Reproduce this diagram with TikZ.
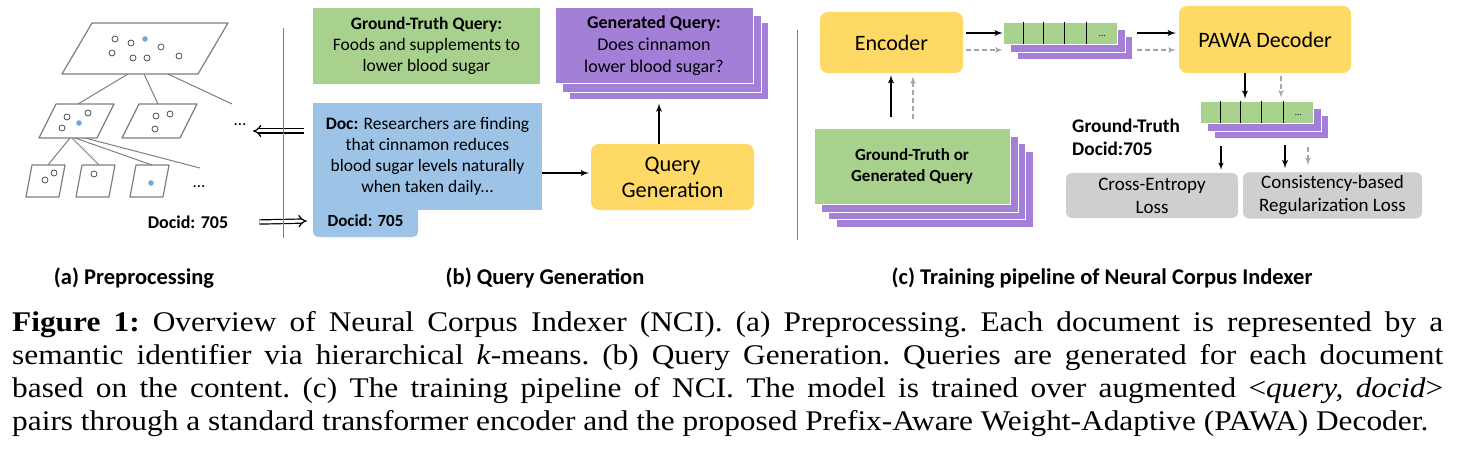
\documentclass[tikz,border=0pt]{standalone}
\usepackage{fontspec}
\setmainfont{Carlito}
\newfontfamily\capfont{Liberation Serif}[FakeStretch=1.1]
\usepackage{tikz}
\usetikzlibrary{shapes,arrows,arrows.meta,positioning,backgrounds}

\definecolor{qgreen}{HTML}{A9D18E}
\definecolor{qpurple}{HTML}{A47FD8}
\definecolor{qblue}{HTML}{9DC3E6}
\definecolor{qyellow}{HTML}{FFD966}
\definecolor{qgray}{HTML}{D0CECE}
\definecolor{qarrow}{HTML}{A6A6A6}
\definecolor{qline}{HTML}{7F7F7F}
\definecolor{qdot}{HTML}{6FA8DC}

\begin{document}
\begin{tikzpicture}[x=1pt, y=-1pt, >=latex']
	%define block styles
	\tikzset{
		engine/.style={rectangle, rounded corners=8pt, fill=qyellow, align=center, font=\fontsize{22}{26}\selectfont},
		textbox/.style={rectangle, align=center, font=\fontsize{17.5}{21}\selectfont},
		tokens/.style={rectangle, fill=qgreen, draw=white, line width=0.6pt, minimum width=114pt, minimum height=22pt, inner sep=0pt},
		stackcopy/.style={fill=qpurple, draw=white, line width=1pt},
		lossbox/.style={rectangle, rounded corners=6pt, fill=qgray, minimum height=45pt, align=center, font=\fontsize{19}{23}\selectfont},
		boldtext/.style={inner sep=0pt, font=\bfseries\fontsize{18}{21}\selectfont},
		subcap/.style={inner sep=0pt, font=\bfseries\fontsize{22.5}{26}\selectfont},
		cluster/.style={draw=qline, line width=1.2pt, fill=white, line join=round},
		member/.style={draw=black!75, fill=white, line width=0.7pt},
		hitmember/.style={fill=qdot},
		branch/.style={draw=qline, line width=1pt},
		divider/.style={draw=qline, line width=1pt},
		arrow/.style={line width=1.8pt, ->},
		grayarrow/.style={line width=1.6pt, ->, draw=qarrow, dash pattern=on 5pt off 3pt},
		dblarrow/.style={double, double distance=3pt, line width=1.2pt, -{Implies[scale=1.5]}},
	}
	\useasboundingbox (0,0) rectangle (1463,457);
	%define clusters
	\foreach \x/\y/\w/\h/\s/\n in {62/74/136/51/30/c0, 39/138/58/34/17/c1, 122/138/58/34/17/c2, 26/197/33/32/6/c3, 76/197/33/32/6/c4, 130/197/33/32/6/c5}
		\draw[cluster] (\x,\y) coordinate (\n) -- ++(\w,0) -- ++(\s,-\h) -- ++(-\w,0) -- cycle;
	\foreach \x/\y in {115/39, 131/43, 161/47, 112/53, 133/58, 147/58, 179/56, 67/117, 88/113, 62/128, 156/116, 170/114, 155/129, 45/180, 54/173, 94/174}
		\draw[member] (\x,\y) circle (3pt);
	\foreach \x/\y in {145/39, 79/123, 151/183}
		\fill[hitmember] (\x,\y) circle (2.8pt);
	\node[boldtext, font=\fontsize{17}{21}\selectfont] (dotsA) at (240,125) {...};
	\node[boldtext, font=\fontsize{17}{21}\selectfont] (dotsB) at (199,187) {...};
	\coordinate (openA) at (232,104);
	\coordinate (openB) at (200,168);
	\coordinate (tipA) at (253,131);
	\node[boldtext] (docidL) at (188,222) {Docid: 705};
	\draw[branch] ([xshift=66pt]c0) -- ([shift={(39pt,34pt)}]c1);
	\draw[branch] ([xshift=82pt]c0) -- ([shift={(36pt,34pt)}]c2);
	\draw[branch] ([xshift=106pt]c0) -- (openA);
	\draw[branch] ([xshift=31pt]c1) -- ([shift={(22pt,32pt)}]c3);
	\draw[branch] ([xshift=33pt]c1) -- ([shift={(23pt,32pt)}]c4);
	\draw[branch] ([xshift=36pt]c1) -- ([shift={(22pt,32pt)}]c5);
	\draw[branch] ([xshift=46pt]c1) -- (openB);
	%define nodes
	\node[textbox, fill=qgreen, minimum width=227pt, minimum height=76pt] (gtq) at (426.5,46) {\textbf{Ground-Truth Query:}\\Foods and supplements to\\lower blood sugar};
	\node[textbox, fill=qpurple, draw=white, line width=1pt, minimum width=198pt, minimum height=76pt, font=\fontsize{18}{22}\selectfont] (genq) at (654,46) {\textbf{Generated Query:}\\Does cinnamon\\lower blood sugar?};
	\node[textbox, fill=qblue, rounded corners=5pt, minimum width=105pt, minimum height=32pt, font=\bfseries\fontsize{17}{20}\selectfont] (docid) at (365.5,221) {Docid: 705};
	\node[textbox, fill=qblue, minimum width=229pt, minimum height=107pt] (doc) at (427.5,156.5) {\textbf{Doc:} Researchers are finding\\that cinnamon reduces\\blood sugar levels naturally\\when taken daily...};
	\node[engine, minimum width=163pt, minimum height=66pt, font=\fontsize{22.3}{26}\selectfont] (qg) at (672.5,177) {Query\\Generation};
	\node[engine, minimum width=143pt, minimum height=61pt] (enc) at (891.5,42.5) {Encoder};
	\node[engine, minimum width=172pt, minimum height=67pt] (pawa) at (1265,39.5) {PAWA Decoder};
	\node[tokens] (vecA) at (1060,33) {};
	\node[tokens, minimum width=113pt] (vecB) at (1256.5,112) {};
	\node[font=\fontsize{9}{9}\selectfont, inner sep=0pt] (vecAdots) at ([shift={(-15pt,-3pt)}]vecA.east) {...};
	\node[font=\fontsize{9}{9}\selectfont, inner sep=0pt] (vecBdots) at ([shift={(-15pt,-3pt)}]vecB.east) {...};
	\foreach \off in {21,41,62,84} {
		\draw[line width=0.8pt] ([xshift=\off pt]vecA.north west) -- ([xshift=\off pt]vecA.south west);
		\draw[line width=0.8pt] ([xshift=\off pt]vecB.north west) -- ([xshift=\off pt]vecB.south west);
	}
	\node[textbox, fill=qgreen, draw=white, line width=1pt, minimum width=196pt, minimum height=75pt, font=\bfseries\fontsize{17}{21}\selectfont] (gtg) at (912,166.5) {Ground-Truth or\\Generated Query};
	\node[boldtext, align=left, anchor=west, font=\bfseries\fontsize{19.3}{23}\selectfont] (gtdocid) at (1072,137) {Ground-Truth\\Docid:705};
	\node[lossbox, minimum width=172pt] (ce) at (1152,195.5) {Cross-Entropy\\Loss};
	\node[lossbox, minimum width=179pt] (reg) at (1332.5,195.5) {Consistency-based\\Regularization Loss};
	%stacked copies
	\begin{scope}[on background layer]
		\foreach \off in {15,8} {
			\draw[stackcopy] ([shift={(\off pt,-\off pt)}]genq.north west) rectangle ([shift={(\off pt,-\off pt)}]genq.south east);
			\draw[stackcopy] ([shift={(\off pt,-\off pt)}]vecA.north west) rectangle ([shift={(\off pt,-\off pt)}]vecA.south east);
			\draw[stackcopy] ([shift={(\off pt,-\off pt)}]vecB.north west) rectangle ([shift={(\off pt,-\off pt)}]vecB.south east);
		}
		\foreach \off in {23,15,8}
			\draw[stackcopy] ([shift={(\off pt,-\off pt)}]gtg.north west) rectangle ([shift={(\off pt,-\off pt)}]gtg.south east);
	\end{scope}
	%define arrows
	\draw[arrow] ([yshift=-16.5pt]doc.east) -- ([shift={(-2pt,4pt)}]qg.west);
	\draw[arrow] ([xshift=-13.5pt]qg.north) -- ([shift={(5pt,-19pt)}]genq.south);
	\draw[dblarrow] ([shift={(-9pt,25.5pt)}]doc.west) -- (tipA);
	\draw[dblarrow] ([xshift=31pt]docidL.east) -- ([xshift=-6pt]docid.west);
	\draw[arrow] ([shift={(3pt,9.5pt)}]enc.east) -- (vecA.west);
	\draw[grayarrow] ([shift={(3pt,-7.5pt)}]enc.east) -- ([yshift=-17pt]vecA.west);
	\draw[arrow] ([xshift=20pt]vecA.east) -- ([shift={(-3pt,6.5pt)}]pawa.west);
	\draw[grayarrow] ([shift={(20pt,-17pt)}]vecA.east) -- ([shift={(-3pt,-10.5pt)}]pawa.west);
	\draw[arrow] ([shift={(-21pt,11pt)}]gtg.north) -- ([shift={(-0.5pt,-2pt)}]enc.south);
	\draw[grayarrow] ([shift={(1pt,9pt)}]gtg.north) -- ([shift={(21.5pt,-3pt)}]enc.south);
	\draw[arrow] ([xshift=-20pt]pawa.south) -- ([shift={(-11.5pt,2pt)}]vecB.north);
	\draw[grayarrow] ([shift={(16pt,-3pt)}]pawa.south) -- ([shift={(24.5pt,3pt)}]vecB.north);
	\draw[arrow, line width=1.4pt] ([shift={(-35.5pt,-23pt)}]vecB.south) -- ([shift={(69pt,3pt)}]ce.north);
	\draw[arrow] ([shift={(28.5pt,-22pt)}]vecB.south) -- ([shift={(-47.5pt,4pt)}]reg.north);
	\draw[grayarrow] ([shift={(51.5pt,-24pt)}]vecB.south) -- ([shift={(-24.5pt,7pt)}]reg.north);
	%separators
	\draw[divider] (283,28) -- (283,238);
	\draw[divider] (797,30) -- (797,240);
	%captions
	\node[subcap] (capa) at (134,278) {(a) Preprocessing};
	\node[subcap] (capb) at (545,278) {(b) Query Generation};
	\node[subcap] (capc) at (1102,278) {(c) Training pipeline of Neural Corpus Indexer};
	\node[anchor=north west, inner sep=0pt, text width=1431pt, align=justify, font=\capfont\fontsize{28.5}{33}\selectfont] (caption) at (12,311) {\frenchspacing\parfillskip=0pt \textbf{Figure 1:} Overview of Neural Corpus Indexer (NCI). (a) Preprocessing. Each document is represented by a\linebreak semantic identifier via hierarchical \textit{k}-means. (b) Query Generation. Queries are generated for each document\linebreak based on the content. (c) The training pipeline of NCI. The model is trained over augmented \textless\textit{query, docid}\textgreater\linebreak pairs through a standard transformer encoder and the proposed Prefix-Aware Weight-Adaptive (PAWA) Decoder.};
\end{tikzpicture}
\end{document}
